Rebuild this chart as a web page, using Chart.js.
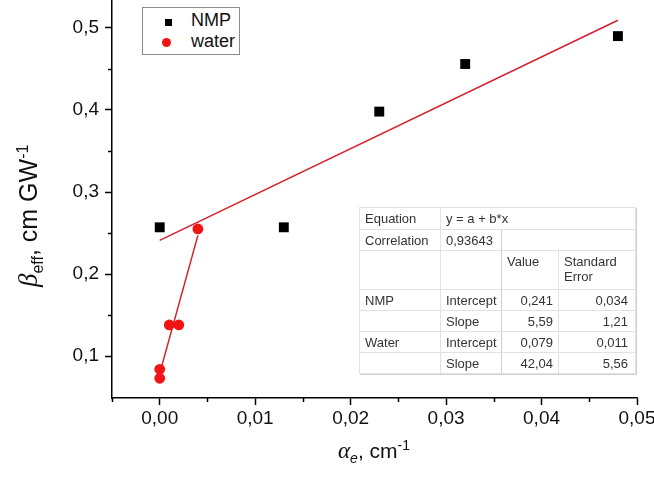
<!DOCTYPE html>
<html>
<head>
<meta charset="utf-8">
<script src="https://cdn.jsdelivr.net/npm/chart.js@4.4.1/dist/chart.umd.min.js"></script>
<style>
  html, body { margin: 0; padding: 0; background: #fff; overflow: hidden; }
  #wrap { position: relative; width: 654px; height: 478px; overflow: hidden; background: #fff;
          font-family: "Liberation Sans", Arial, sans-serif; color: #111; }
  #chart { position: absolute; left: 0; top: 0; }
  #legend { position: absolute; left: 142px; top: 7px; width: 96px; height: 46px;
            border: 1px solid #8c8c8c; background: #fff; }
  #legend .txt { position: absolute; left: 48px; font-size: 18px; line-height: 18px; white-space: nowrap; }
  #legend .mk { position: absolute; }
  #fitTable { position: absolute; left: 359px; top: 207px; border-collapse: collapse; table-layout: fixed;
              background: #fff; border: 1px solid #9a9a9a; box-shadow: 1px 1px 0 #d0d0d0;
              font-size: 13px; color: #333; }
  #fitTable td { padding: 0; border: 1px solid #e2e2e2; white-space: nowrap; line-height: 15px; }
  #fitTable td.l { padding-left: 5px; text-align: left; }
  #fitTable td.v { padding-right: 5px; text-align: right; }
  #fitTable td.e { padding-right: 7px; text-align: right; }
  #fitTable td.top { vertical-align: top; padding-top: 3px; }
  #fitTable td.sep { border-right-color: #cfcfcf; }
  .title { position: absolute; left: 0; top: 0; white-space: nowrap; color: #111; }
  .title .gr { font-family: "Liberation Serif", "DejaVu Serif", serif; font-style: italic; }
  .title sub, .title sup { line-height: 0; }
  #ytitle { font-size: 25px; line-height: 30px; transform-origin: 0 0; transform: translate(13px, 287px) rotate(-90deg); }
  #ytitle .gr { font-size: 27px; }
  #ytitle sub, #ytitle sup { font-size: 16px; }
  #xtitle { font-size: 21px; line-height: 26px; left: 374px; top: 438px; transform: translateX(-50%); }
  #xtitle .gr { font-size: 23px; }
  #xtitle sub, #xtitle sup { font-size: 14px; }
</style>
</head>
<body>
<div id="wrap">
  <canvas id="chart" width="654" height="478"></canvas>
  <div id="legend"></div>
  <table id="fitTable"></table>
  <div class="title" id="ytitle"><span class="gr">β</span><sub>eff</sub>, cm GW<sup>-1</sup></div>
  <div class="title" id="xtitle"><span class="gr">α</span><sub><i>e</i></sub>, cm<sup>-1</sup></div>
</div>
<script>
// Measured points
const seriesNames = ['NMP', 'water'];
const nmpX = [0.000, 0.013, 0.023, 0.032, 0.048];
const nmpY = [0.257, 0.257, 0.398, 0.456, 0.490];
const waterX = [0.000, 0.000, 0.001, 0.002, 0.004];
const waterY = [0.073, 0.084, 0.138, 0.138, 0.255];

// Linear fit results y = a + b*x
const fitNames = ['NMP', 'Water'];
const fitIntercept = [0.241, 0.079];
const fitInterceptErr = [0.034, 0.011];
const fitSlope = [5.59, 42.04];
const fitSlopeErr = [1.21, 5.56];
const fitCorrelation = 0.93643;

// Axis ticks
const xMajorTicks = [0.00, 0.01, 0.02, 0.03, 0.04, 0.05];
const xMinorTicks = [-0.005, 0.005, 0.015, 0.025, 0.035, 0.045];
const yMajorTicks = [0.1, 0.2, 0.3, 0.4, 0.5];
const yMinorTicks = [0.15, 0.25, 0.35, 0.45];

const markerRed = '#f01414';
const lineRed = '#d4202c';

const toPoints = (xs, ys) => xs.map((x, i) => ({ x: x, y: ys[i] }));
const fitLine = (k, xs) => {
  const lo = Math.min(...xs), hi = Math.max(...xs);
  return [lo, hi].map(x => ({ x: x, y: fitIntercept[k] + fitSlope[k] * x }));
};
const comma = (v, d) => v.toFixed(d).replace('.', ',');
const isIn = (list, v) => list.some(m => Math.abs(m - v) < 1e-9);

// Let the plot frame run up to the very top edge of the canvas
const fullHeightFrame = {
  id: 'fullHeightFrame',
  afterLayout(chart) {
    const a = chart.chartArea, y = chart.scales.y;
    a.top = 0; a.height = a.bottom - a.top;
    y.top = 0; y.height = y.bottom - y.top;
    y.configure();
  }
};

// Minor tick marks (shorter than the major ones)
const minorTicks = {
  id: 'minorTicks',
  afterDraw(chart) {
    const { ctx, chartArea, scales } = chart;
    ctx.save();
    ctx.strokeStyle = '#000';
    ctx.lineWidth = 1.5;
    xMinorTicks.forEach(v => {
      const px = Math.round(scales.x.getPixelForValue(v)) + 0.5;
      ctx.beginPath(); ctx.moveTo(px, chartArea.bottom); ctx.lineTo(px, chartArea.bottom + 4); ctx.stroke();
    });
    yMinorTicks.forEach(v => {
      const py = Math.round(scales.y.getPixelForValue(v)) + 0.5;
      ctx.beginPath(); ctx.moveTo(chartArea.left - 4, py); ctx.lineTo(chartArea.left, py); ctx.stroke();
    });
    ctx.restore();
  }
};

const tickFont = { family: '"Liberation Sans", Arial, sans-serif', size: 19 };

new Chart(document.getElementById('chart'), {
  type: 'scatter',
  data: {
    datasets: [
      { label: seriesNames[0], data: toPoints(nmpX, nmpY), pointStyle: 'rect', pointRadius: 7,
        backgroundColor: '#000', borderColor: '#000', borderWidth: 0, order: 0 },
      { label: seriesNames[1], data: toPoints(waterX, waterY), pointStyle: 'circle', pointRadius: 5.4,
        backgroundColor: markerRed, borderColor: markerRed, borderWidth: 0, order: 0 },
      { type: 'line', label: 'fit ' + fitNames[0], data: fitLine(0, nmpX), borderColor: lineRed,
        borderWidth: 1.5, pointRadius: 0, fill: false, order: 1 },
      { type: 'line', label: 'fit ' + fitNames[1], data: fitLine(1, waterX), borderColor: lineRed,
        borderWidth: 1.5, pointRadius: 0, fill: false, order: 1 }
    ]
  },
  options: {
    responsive: false,
    animation: false,
    devicePixelRatio: 1,
    layout: { padding: { left: 0, right: 17, top: 0, bottom: 0 } },
    plugins: { legend: { display: false }, tooltip: { enabled: false } },
    scales: {
      x: {
        type: 'linear', min: -0.005, max: 0.05,
        afterBuildTicks: s => { s.ticks = xMajorTicks.concat(xMinorTicks).sort((a, b) => a - b).map(v => ({ value: v })); },
        afterFit: s => { s.height = 80; s.paddingLeft = 0; s.paddingRight = 0; },
        ticks: { autoSkip: false, maxRotation: 0, padding: 2, color: '#111', font: tickFont,
                 callback: v => isIn(xMajorTicks, v) ? comma(v, 2) : '' },
        grid: { drawOnChartArea: false, drawTicks: true, tickLength: 7, tickWidth: 1.5,
                tickColor: c => (c.tick && isIn(xMajorTicks, c.tick.value)) ? '#000' : 'rgba(0,0,0,0)' },
        border: { display: true, color: '#000', width: 1.5 }
      },
      y: {
        type: 'linear', min: 0.049, max: 0.534,
        afterBuildTicks: s => { s.ticks = yMinorTicks.concat(yMajorTicks).sort((a, b) => a - b).map(v => ({ value: v })); },
        afterFit: s => { s.width = 112; s.paddingTop = 0; s.paddingBottom = 0; },
        ticks: { autoSkip: false, padding: 6, color: '#111', font: tickFont,
                 callback: v => isIn(yMajorTicks, v) ? comma(v, 1) : '' },
        grid: { drawOnChartArea: false, drawTicks: true, tickLength: 7, tickWidth: 1.5,
                tickColor: c => (c.tick && isIn(yMajorTicks, c.tick.value)) ? '#000' : 'rgba(0,0,0,0)' },
        border: { display: true, color: '#000', width: 1.5 }
      }
    }
  },
  plugins: [fullHeightFrame, minorTicks]
});

// Legend box
(function () {
  const lg = document.getElementById('legend');
  const rows = [
    { name: seriesNames[0], top: 3, mk: 'left:22px;top:11px;width:7px;height:7px;background:#000;' },
    { name: seriesNames[1], top: 24, mk: 'left:18.5px;top:30px;width:9px;height:9px;border-radius:50%;background:' + markerRed + ';' }
  ];
  rows.forEach(r => {
    const m = document.createElement('div'); m.className = 'mk'; m.style.cssText = r.mk; lg.appendChild(m);
    const t = document.createElement('div'); t.className = 'txt'; t.style.top = r.top + 'px'; t.textContent = r.name; lg.appendChild(t);
  });
})();

// Fit parameter table
(function () {
  const tb = document.getElementById('fitTable');
  const colW = [81, 61, 57, 77];
  const cg = document.createElement('colgroup');
  colW.forEach(w => { const c = document.createElement('col'); c.style.width = w + 'px'; cg.appendChild(c); });
  tb.appendChild(cg);
  const rows = [
    { h: 22, cells: [['Equation', 'l'], ['y = a + b*x', 'l', 3]] },
    { h: 21, cells: [['Correlation', 'l'], [comma(fitCorrelation, 5), 'l sep'], ['', 'l', 2]] },
    { h: 39, cells: [['', 'l'], ['', 'l sep'], ['Value', 'l top'], ['Standard<br>Error', 'l top']] }
  ];
  fitNames.forEach((n, k) => {
    rows.push({ h: 21, cells: [[n, 'l'], ['Intercept', 'l sep'], [comma(fitIntercept[k], 3), 'v'], [comma(fitInterceptErr[k], 3), 'e']] });
    rows.push({ h: 21, cells: [['', 'l'], ['Slope', 'l sep'], [comma(fitSlope[k], 2), 'v'], [comma(fitSlopeErr[k], 2), 'e']] });
  });
  rows.forEach(r => {
    const tr = document.createElement('tr');
    tr.style.height = r.h + 'px';
    r.cells.forEach(c => {
      const td = document.createElement('td');
      td.innerHTML = c[0];
      td.className = c[1];
      if (c[2]) td.colSpan = c[2];
      tr.appendChild(td);
    });
    tb.appendChild(tr);
  });
})();
</script>
</body>
</html>
